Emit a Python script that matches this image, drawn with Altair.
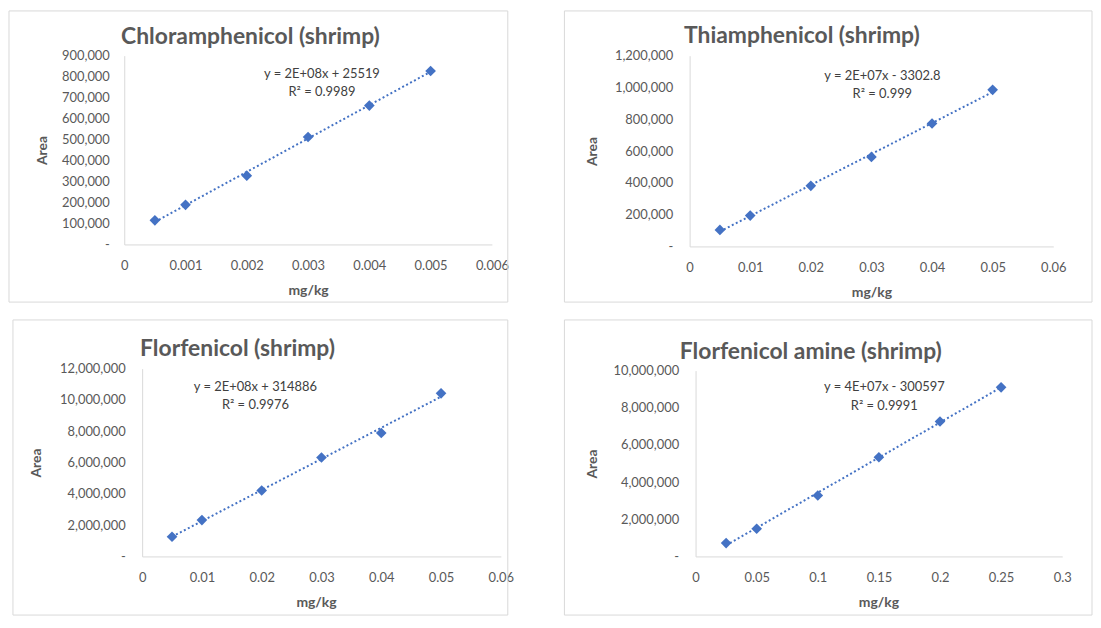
import altair as alt
import pandas as pd

# ---------------- data ----------------
titles = ["Chloramphenicol (shrimp)", "Thiamphenicol (shrimp)",
          "Florfenicol (shrimp)", "Florfenicol amine (shrimp)"]
equations = ["y = 2E+08x + 25519", "y = 2E+07x - 3302.8",
             "y = 2E+08x + 314886", "y = 4E+07x - 300597"]
r2_labels = ["R² = 0.9989", "R² = 0.999", "R² = 0.9976", "R² = 0.9991"]

chl_x = [0.0005, 0.001, 0.002, 0.003, 0.004, 0.005]
chl_y = [115000, 189000, 328000, 512000, 662000, 827000]

thi_x = [0.005, 0.01, 0.02, 0.03, 0.04, 0.05]
thi_y = [104000, 194000, 381000, 563000, 773000, 985000]

flo_x = [0.005, 0.01, 0.02, 0.03, 0.04, 0.05]
flo_y = [1260000, 2320000, 4210000, 6320000, 7890000, 10420000]

ffa_x = [0.025, 0.05, 0.1, 0.15, 0.2, 0.25]
ffa_y = [720000, 1490000, 3280000, 5340000, 7260000, 9100000]

chl_xticks = [0, 0.001, 0.002, 0.003, 0.004, 0.005, 0.006]
thi_xticks = [0, 0.01, 0.02, 0.03, 0.04, 0.05, 0.06]
flo_xticks = [0, 0.01, 0.02, 0.03, 0.04, 0.05, 0.06]
ffa_xticks = [0, 0.05, 0.1, 0.15, 0.2, 0.25, 0.3]

chl_yticks = [0, 100000, 200000, 300000, 400000, 500000, 600000, 700000, 800000, 900000]
thi_yticks = [0, 200000, 400000, 600000, 800000, 1000000, 1200000]
flo_yticks = [0, 2000000, 4000000, 6000000, 8000000, 10000000, 12000000]
ffa_yticks = [0, 2000000, 4000000, 6000000, 8000000, 10000000]

# ---------------- styling ----------------
BLUE = "#4472C4"
GREY_TXT = "#595959"
GREY_LINE = "#d9d9d9"
FONT = "Lato"


def panel(i, xs, ys, xticks, yticks, xr, yr, frame, title_pos, eq_pos, area_x, label_pad, mg_x):
    df = pd.DataFrame({"conc": xs, "area": ys})
    lab = pd.DataFrame({"title": [titles[i]], "eq": [equations[i]], "r2": [r2_labels[i]]})
    x0, x1 = xr          # pixel range of the x scale (local)
    y_top, y_bot = yr    # pixel range of the y scale (local)

    x_enc = alt.X(
        "conc:Q",
        scale=alt.Scale(domain=[xticks[0], xticks[-1]], nice=False, range=[x0, x1]),
        axis=alt.Axis(
            values=xticks, format="~g", grid=False, ticks=False,
            domainColor=GREY_LINE, domainWidth=1,
            labelFont=FONT, labelFontSize=13, labelColor=GREY_TXT, labelPadding=15,
            labelFlush=False, labelOverlap=False,
            title="mg/kg", titleFont=FONT, titleFontSize=14, titleFontWeight="bold",
            titleColor=GREY_TXT, titlePadding=11, titleX=mg_x,
        ),
    )
    y_enc = alt.Y(
        "area:Q",
        scale=alt.Scale(domain=[yticks[0], yticks[-1]], nice=False, range=[y_bot, y_top]),
        axis=alt.Axis(
            values=yticks, grid=False, ticks=False, offset=-x0,
            labelExpr="datum.value === 0 ? '-' : format(datum.value, ',')",
            domainColor=GREY_LINE, domainWidth=1,
            labelFont=FONT, labelFontSize=13, labelColor=GREY_TXT, labelPadding=label_pad,
            labelFlush=False, labelOverlap=False,
            title="Area", titleFont=FONT, titleFontSize=14, titleFontWeight="bold",
            titleColor=GREY_TXT, titleX=area_x, titleY=(y_top + y_bot) / 2, titleAngle=270,
            titleAlign="center", titleBaseline="middle",
        ),
    )

    base = alt.Chart(df)
    trend = base.transform_regression("conc", "area").mark_line(
        color=BLUE, strokeWidth=2, strokeDash=[2, 2.5]
    ).encode(x=x_enc, y=y_enc)
    points = base.mark_point(
        shape="diamond", filled=True, size=115, color=BLUE, opacity=1
    ).encode(x=x_enc, y=y_enc)

    fl, fr, ft, fb = frame
    box = alt.Chart(lab).mark_rect(filled=False, color=GREY_LINE, strokeWidth=1).encode(
        x=alt.value(fl), x2=alt.value(fr), y=alt.value(ft), y2=alt.value(fb)
    )
    ttl = alt.Chart(lab).mark_text(
        font=FONT, fontSize=23, fontWeight="bold", color=GREY_TXT,
        align="center", baseline="alphabetic"
    ).encode(x=alt.value(title_pos[0]), y=alt.value(title_pos[1]), text="title:N")
    eq = alt.Chart(lab).mark_text(
        font=FONT, fontSize=13, color="#404040", align="center", baseline="middle"
    ).encode(x=alt.value(eq_pos[0]), y=alt.value(eq_pos[1]), text="eq:N")
    r2 = alt.Chart(lab).mark_text(
        font=FONT, fontSize=13, color="#404040", align="center", baseline="middle"
    ).encode(x=alt.value(eq_pos[0]), y=alt.value(eq_pos[1] + 19), text="r2:N")

    return alt.layer(box, trend, points, ttl, eq, r2).properties(width=x1, height=y_bot)


# column origins: x=142 (left) and x=692 (right); row origins: y=53 and y=367
p1 = panel(0, chl_x, chl_y, chl_xticks, chl_yticks, (-18, 352), (0, 190),
           (-134, 368, -45, 248), (109, -12), (181, 18), -82, 15, 167)
p2 = panel(1, thi_x, thi_y, thi_xticks, thi_yticks, (-6, 360), (0, 192),
           (-132, 399, -45, 248), (107, -13), (188, 20), -98, 17, 177)
p3 = panel(2, flo_x, flo_y, flo_xticks, flo_yticks, (0, 361), (0, 189),
           (-130, 368, -49, 248), (96, -13), (114, 18), -106, 17, 175)
p4 = panel(3, ffa_x, ffa_y, ffa_xticks, ffa_yticks, (0, 369), (2, 189),
           (-132, 399, -49, 248), (116, -10), (190, 19), -104, 17, 184)

chart = alt.concat(
    p1, p2, p3, p4, columns=2, spacing={"row": 16, "column": 49},
    align="none", bounds="full", padding=0,
).configure_view(stroke="transparent")

chart.save("out.html", embed_options={"renderer": "svg", "actions": False})
